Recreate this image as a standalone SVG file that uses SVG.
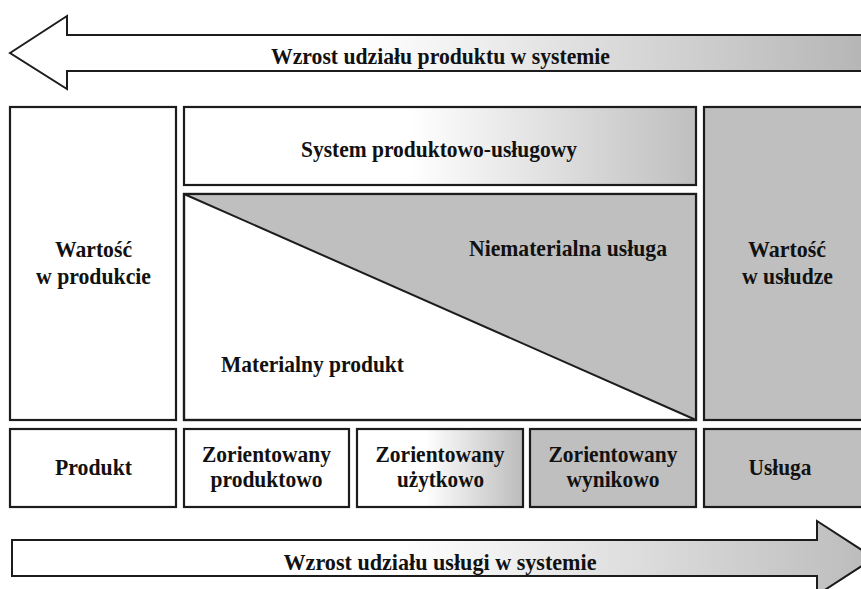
<svg xmlns="http://www.w3.org/2000/svg" width="861" height="589" viewBox="0 0 861 589" font-family="'Liberation Serif', 'Times New Roman', 'DejaVu Serif', serif">
<style>
.box{stroke:#1c1c1c;stroke-width:2.2;}
.w{fill:#ffffff;}
.g{fill:#bfbfbf;}
.arrow{stroke:#1c1c1c;stroke-width:2;stroke-linejoin:miter;}
.t{font-family:'Liberation Serif','Times New Roman','DejaVu Serif',serif;font-weight:bold;font-size:23px;fill:#111;text-anchor:middle;}
</style>
<defs>
<linearGradient id="gTop" gradientUnits="userSpaceOnUse" x1="360" y1="0" x2="861" y2="0">
<stop offset="0" stop-color="#ffffff"/>
<stop offset="1" stop-color="#b6b6b6"/>
</linearGradient>
<linearGradient id="gBot" gradientUnits="userSpaceOnUse" x1="400" y1="0" x2="861" y2="0">
<stop offset="0" stop-color="#ffffff"/>
<stop offset="1" stop-color="#bdbdbd"/>
</linearGradient>
<linearGradient id="gSys" gradientUnits="userSpaceOnUse" x1="410" y1="0" x2="696" y2="0">
<stop offset="0" stop-color="#ffffff"/>
<stop offset="1" stop-color="#bfbfbf"/>
</linearGradient>
<linearGradient id="gUz" gradientUnits="userSpaceOnUse" x1="425" y1="0" x2="523" y2="0">
<stop offset="0" stop-color="#ffffff"/>
<stop offset="1" stop-color="#bcbcbc"/>
</linearGradient>
</defs>
<rect width="861" height="589" fill="#ffffff"/>

<g id="arrow-product">
<polygon class="arrow" fill="url(#gTop)" points="10,53 67,16 67,35 880,35 880,71 67,71 67,89"/>
<text class="t" x="440.5" y="64" textLength="339" lengthAdjust="spacingAndGlyphs">Wzrost udziału produktu w systemie</text>
</g>

<g id="value-product">
<rect class="box w" x="10" y="107" width="166" height="313"/>
<text class="t" x="93.5" y="257" textLength="77" lengthAdjust="spacingAndGlyphs">Wartość</text>
<text class="t" x="93.5" y="284" textLength="115" lengthAdjust="spacingAndGlyphs">w produkcie</text>
</g>

<g id="pss">
<rect class="box" fill="url(#gSys)" x="184" y="107" width="512" height="78"/>
<text class="t" x="439" y="157" textLength="276" lengthAdjust="spacingAndGlyphs">System produktowo-usługowy</text>
</g>

<g id="material-immaterial">
<rect class="box w" x="184" y="194" width="512" height="226"/>
<polygon class="g" points="184,194 696,194 696,420"/>
<line x1="184" y1="194" x2="696" y2="420" stroke="#1c1c1c" stroke-width="2"/>
<rect x="184" y="194" width="512" height="226" fill="none" class="box"/>
<text class="t" x="568" y="256" textLength="198" lengthAdjust="spacingAndGlyphs">Niematerialna usługa</text>
<text class="t" x="312.5" y="372" textLength="183" lengthAdjust="spacingAndGlyphs">Materialny produkt</text>
</g>

<g id="value-service">
<rect class="box g" x="704" y="107" width="170" height="313"/>
<text class="t" x="787" y="257" textLength="78" lengthAdjust="spacingAndGlyphs">Wartość</text>
<text class="t" x="787.5" y="284" textLength="91" lengthAdjust="spacingAndGlyphs">w usłudze</text>
</g>

<g id="produkt">
<rect class="box w" x="10" y="429" width="166" height="78"/>
<text class="t" x="93.5" y="475" textLength="77" lengthAdjust="spacingAndGlyphs">Produkt</text>
</g>

<g id="zor-produktowo">
<rect class="box w" x="184" y="429" width="165" height="78"/>
<text class="t" x="266.5" y="462" textLength="129" lengthAdjust="spacingAndGlyphs">Zorientowany</text>
<text class="t" x="266.5" y="487" textLength="112" lengthAdjust="spacingAndGlyphs">produktowo</text>
</g>

<g id="zor-uzytkowo">
<rect class="box" fill="url(#gUz)" x="357" y="429" width="166" height="78"/>
<text class="t" x="440" y="462" textLength="129" lengthAdjust="spacingAndGlyphs">Zorientowany</text>
<text class="t" x="440.5" y="487" textLength="87" lengthAdjust="spacingAndGlyphs">użytkowo</text>
</g>

<g id="zor-wynikowo">
<rect class="box g" x="530" y="429" width="166" height="78"/>
<text class="t" x="613" y="462" textLength="129" lengthAdjust="spacingAndGlyphs">Zorientowany</text>
<text class="t" x="613" y="487" textLength="93" lengthAdjust="spacingAndGlyphs">wynikowo</text>
</g>

<g id="usluga">
<rect class="box g" x="704" y="429" width="170" height="78"/>
<text class="t" x="780" y="475" textLength="63" lengthAdjust="spacingAndGlyphs">Usługa</text>
</g>

<g id="arrow-service">
<polygon class="arrow" fill="url(#gBot)" points="12,540 817,540 817,521 874,558 817,595 817,576 12,576"/>
<text class="t" x="440" y="570" textLength="313" lengthAdjust="spacingAndGlyphs">Wzrost udziału usługi w systemie</text>
</g>

<g id="connectors"></g>
</svg>
